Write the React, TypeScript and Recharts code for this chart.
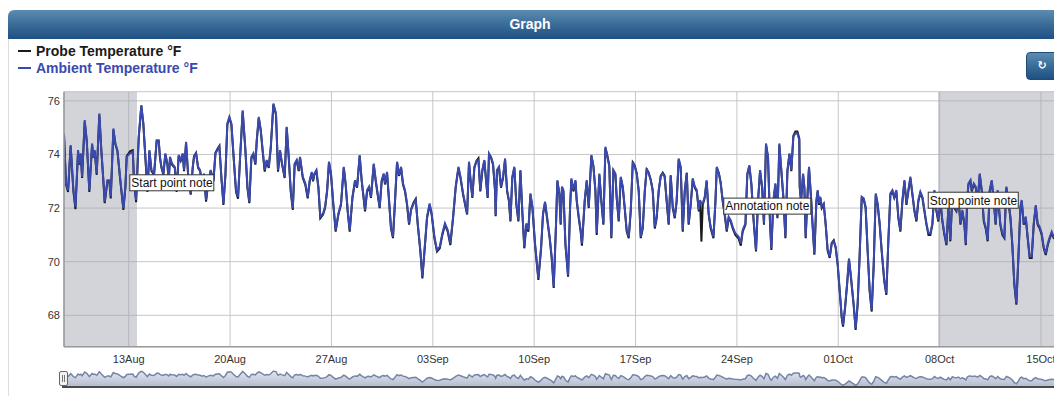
import React from "react";
import {
  LineChart,
  Line,
  XAxis,
  YAxis,
  CartesianGrid,
  ReferenceArea,
  ReferenceDot,
  AreaChart,
  Area,
} from "recharts";

// x values are days relative to 13 Aug
const tickDays = [0, 7, 14, 21, 28, 35, 42, 49, 56, 63];
const tickLabels = ["13Aug", "20Aug", "27Aug", "03Sep", "10Sep", "17Sep", "24Sep", "01Oct", "08Oct", "15Oct"];
const yTicks = [68, 70, 72, 74, 76];
const xDomain: [number, number] = [-4.47, 64.5];
const yDomain: [number, number] = [66.83, 76.34];
const bands: [number, number][] = [
  [-4.47, 0.57],
  [55.89, 64.5],
];
const notes = [
  { text: "Start point note", t: 0.04, v: 73.26 },
  { text: "Annotation note", t: 41.06, v: 72.39 },
  { text: "Stop pointe note", t: 55.18, v: 72.61 },
];

const ambientPoints: [number, number][] = [
  [-4.47,74.78],[-4.33,72.92],[-4.19,72.67],[-4.01,74.35],[-3.82,72.67],[-3.68,72.05],[-3.50,74.16],[-3.41,73.66],[-3.31,74.04],[-3.22,73.17],
  [-3.04,75.28],[-2.90,74.53],[-2.72,72.67],[-2.53,74.41],[-2.44,73.91],[-2.35,74.16],[-2.21,73.29],[-2.03,75.53],[-1.89,74.16],[-1.75,73.04],
  [-1.66,72.24],[-1.47,73.04],[-1.34,73.04],[-1.24,72.42],[-1.06,74.97],[-0.92,74.41],[-0.78,74.16],[-0.60,73.17],[-0.37,71.99],[-0.23,72.80],
  [-0.14,73.91],[0.09,74.04],[0.28,74.10],[0.37,72.92],[0.51,72.30],[0.69,74.66],[0.87,75.84],[1.01,75.16],[1.15,73.91],[1.29,72.67],
  [1.43,74.16],[1.57,73.42],[1.75,73.29],[1.93,74.53],[2.07,74.53],[2.16,73.91],[2.26,73.54],[2.39,73.29],[2.53,74.04],[2.67,73.66],
  [2.76,73.04],[2.85,73.91],[2.99,73.66],[3.18,73.54],[3.31,72.67],[3.45,73.98],[3.59,73.79],[3.73,74.04],[3.82,73.42],[3.96,74.47],
  [4.10,73.29],[4.28,72.55],[4.42,73.54],[4.51,73.91],[4.65,74.04],[4.79,73.54],[4.93,73.42],[5.06,72.92],[5.20,73.29],[5.34,72.30],
  [5.48,72.92],[5.66,73.42],[5.85,73.04],[5.99,74.04],[6.12,74.16],[6.26,74.29],[6.40,73.17],[6.54,72.17],[6.68,73.29],[6.81,75.16],
  [6.95,75.40],[7.09,75.16],[7.23,74.04],[7.41,72.67],[7.55,72.42],[7.69,73.91],[7.87,75.65],[8.06,74.16],[8.20,72.80],[8.33,72.24],
  [8.47,73.91],[8.61,74.04],[8.75,73.66],[8.84,74.53],[8.98,75.40],[9.12,74.91],[9.25,74.16],[9.39,73.42],[9.53,73.79],[9.67,73.54],
  [9.81,74.29],[9.99,75.90],[10.17,75.53],[10.31,73.42],[10.45,74.16],[10.59,73.66],[10.77,73.17],[10.91,75.03],[11.05,73.91],[11.19,72.67],
  [11.33,71.99],[11.46,73.66],[11.60,73.79],[11.74,73.42],[11.83,73.91],[12.02,73.17],[12.20,72.92],
  [12.36,72.42],[12.50,73.04],[12.64,73.35],[12.73,73.04],[12.82,73.29],[12.96,73.42],[13.10,72.80],[13.23,71.68],[13.42,71.80],[13.56,72.05],
  [13.70,72.67],[13.83,73.73],[13.97,73.29],[14.11,72.30],[14.29,71.18],[14.48,71.80],[14.66,72.17],[14.85,73.54],[14.98,72.92],[15.12,71.93],
  [15.26,71.18],[15.45,72.42],[15.63,73.04],[15.77,72.80],[15.95,73.98],[16.09,73.04],[16.32,71.93],[16.46,72.67],[16.60,72.80],[16.73,72.42],
  [16.92,73.66],[17.06,73.04],[17.19,72.55],[17.33,72.05],[17.47,73.04],[17.61,73.29],[17.70,72.92],[17.84,73.35],[17.98,72.30],[18.11,71.30],
  [18.25,70.93],[18.39,72.30],[18.53,73.73],[18.67,73.23],[18.81,73.54],[18.94,72.92],[19.08,72.67],[19.22,72.17],[19.36,71.43],[19.50,71.93],
  [19.68,72.17],[19.82,72.30],[19.96,71.43],[20.14,70.43],[20.28,69.44],[20.46,70.68],[20.60,71.68],[20.78,72.17],[20.92,71.80],[21.11,70.93],
  [21.29,70.43],[21.48,70.56],[21.66,71.06],[21.84,71.43],[22.03,71.18],[22.21,70.68],[22.40,71.68],[22.58,72.80],[22.77,73.54],[22.91,73.17],
  [23.09,72.55],[23.23,72.17],[23.37,71.80],[23.50,73.73],[23.59,73.17],[23.73,72.42],[23.87,73.54],[24.01,73.73],[24.15,73.79],[24.28,72.67],
  [24.42,73.42],[24.56,73.79],[24.70,72.92],[24.79,72.42],[24.88,74.04],[25.02,73.91],[25.16,73.66],[25.30,72.67],[25.34,71.74],[25.43,73.42],
  [25.57,73.54],[25.71,72.80],[25.85,73.17],[25.99,73.85],[26.13,72.67],[26.26,72.30],[26.36,71.55],[26.49,73.17],[26.63,73.54],[26.77,72.17],
  [26.91,71.55],[27.05,73.42],[27.19,71.80],[27.32,70.56],[27.46,71.43],[27.60,71.18],[27.74,72.55],[27.88,72.05],[28.06,70.68],[28.29,69.38],
  [28.48,70.56],[28.61,71.80],[28.75,72.24],[28.89,71.68],[29.07,70.93],[29.21,70.19],[29.35,69.07],
  [29.51,71.43],[29.60,73.04],[29.74,72.55],[29.83,71.43],[29.92,72.80],[30.02,72.67],[30.16,70.68],[30.34,69.50],[30.48,72.05],[30.57,73.11],
  [30.71,72.67],[30.85,73.04],[30.94,72.30],[31.08,71.68],[31.21,71.18],[31.30,70.68],[31.49,72.30],[31.63,73.04],[31.77,72.05],[31.95,73.98],
  [32.09,73.54],[32.23,72.67],[32.32,71.06],[32.50,73.29],[32.64,72.30],[32.78,71.43],[32.92,74.29],[33.06,73.91],[33.19,73.54],[33.33,70.93],
  [33.47,73.42],[33.61,73.29],[33.70,72.42],[33.84,71.55],[33.98,73.17],[34.12,72.80],[34.25,72.05],[34.39,71.18],[34.53,70.93],[34.67,71.93],
  [34.81,73.73],[34.95,73.54],[35.08,73.29],[35.22,72.67],[35.36,70.93],[35.50,71.30],[35.64,72.67],[35.77,73.48],[35.91,73.29],[36.05,73.04],
  [36.19,72.67],[36.33,71.30],[36.46,71.68],[36.60,72.67],[36.74,73.17],[36.88,73.29],[37.01,73.17],[37.15,72.30],[37.29,71.43],[37.43,73.23],
  [37.57,72.05],[37.71,71.68],[37.84,72.30],[37.98,73.85],[38.12,73.54],[38.26,71.18],[38.40,72.67],[38.54,73.29],[38.67,71.43],[38.81,72.17],
  [38.95,73.11],[39.09,72.80],[39.23,72.67],[39.37,71.93],[39.46,72.30],[39.55,72.17],[39.64,72.17],[39.78,72.42],[39.91,73.04],[40.05,71.80],
  [40.19,71.30],[40.38,70.93],[40.52,72.30],[40.61,73.54],[40.75,73.29],[40.88,72.92],[41.02,72.30],[41.16,71.80],[41.30,71.18],[41.43,71.68],
  [41.57,71.55],[41.71,71.30],[41.89,71.06],[42.12,70.93],[42.27,70.68],[42.40,71.18],[42.59,71.43],[42.72,73.29],[42.86,73.60],[43.00,72.92],
  [43.14,71.68],[43.32,70.43],[43.46,72.30],[43.60,73.42],[43.74,72.80],[43.87,71.43],[44.01,74.41],[44.15,73.91],[44.29,71.43],[44.38,70.50],
  [44.52,72.30],[44.66,72.92],[44.80,71.68],[44.93,74.41],[45.07,73.42],[45.21,72.42],[45.35,70.93],[45.49,73.42],[45.63,74.04],[45.76,73.42],
  [45.90,74.66],[46.04,74.78],[46.18,74.78],[46.31,74.53],
  [46.34,72.80],[46.43,72.30],[46.57,73.29],[46.66,72.80],[46.75,70.93],[46.89,72.67],[46.98,73.54],[47.12,72.42],[47.21,71.55],[47.35,70.31],
  [47.49,72.30],[47.58,72.67],[47.67,72.17],[47.76,72.42],[47.86,72.05],[48.00,72.17],[48.13,71.43],[48.27,70.43],[48.41,70.19],[48.55,70.68],
  [48.69,70.75],[48.82,70.56],[48.96,69.94],[49.10,68.94],[49.24,67.95],[49.33,67.64],[49.47,68.32],[49.61,69.19],[49.74,70.12],[49.88,69.44],
  [50.06,68.45],[50.20,67.52],[50.34,68.45],[50.48,70.31],[50.62,72.42],[50.76,72.36],[50.89,72.05],[51.03,70.43],[51.17,68.94],[51.31,68.20],
  [51.45,69.94],[51.59,72.55],[51.72,72.17],[51.86,71.43],[52.00,70.43],[52.18,69.32],[52.32,68.82],[52.46,70.81],[52.60,72.55],[52.74,72.67],
  [52.87,72.42],[53.01,72.67],[53.15,71.68],[53.29,71.18],[53.43,72.30],[53.57,73.04],[53.71,72.17],[53.84,72.67],[53.98,73.17],[54.12,72.55],
  [54.26,71.93],[54.40,71.55],[54.53,72.30],[54.67,72.61],[54.81,72.42],[54.95,71.93],[55.09,71.43],[55.23,71.06],[55.36,71.06],[55.50,71.43],
  [55.64,72.67],[55.78,71.93],[55.91,71.55],[56.05,72.30],[56.19,71.55],[56.33,71.06],[56.47,70.68],[56.61,72.05],[56.74,70.81],[56.88,72.55],
  [57.02,72.05],[57.16,71.93],[57.30,72.42],[57.44,71.43],[57.57,71.93],[57.71,71.43],[57.81,70.68],[57.90,72.30],[57.99,72.92],[58.13,73.04],
  [58.22,72.67],[58.36,72.92],[58.49,72.80],[58.63,72.30],[58.77,73.29],[58.91,72.67],[59.05,71.55],[59.18,71.30],[59.32,70.81],[59.46,72.67],
  [59.60,73.04],[59.74,72.30],[59.87,71.43],[60.01,72.67],[60.19,71.43],[60.33,71.06],[60.47,70.93],[60.61,72.80],[60.75,72.30],[60.89,71.68],
  [61.02,70.68],[61.16,69.19],[61.30,68.45],[61.44,70.19],[61.58,72.05],[61.67,72.30],[61.81,71.43],[61.95,71.68],[62.08,70.93],[62.22,70.19],
  [62.36,70.19],[62.50,71.43],[62.64,72.11],[62.77,71.43],[62.91,71.30],[63.05,71.06],[63.19,70.56],[63.33,70.31],[63.47,70.68],[63.61,70.93],
  [63.74,71.12],[63.88,70.93],[64.30,71.00],
];

const probePoints: [number, number][] = [
  [-4.47,74.70],[-4.33,72.88],[-4.19,72.60],[-4.01,74.30],[-3.82,72.62],[-3.68,71.96],[-3.50,74.10],[-3.41,73.62],[-3.31,74.00],[-3.22,73.12],
  [-3.04,75.22],[-2.90,74.50],[-2.72,72.60],[-2.53,74.36],[-2.44,73.88],[-2.35,74.12],[-2.21,73.24],[-2.03,75.48],[-1.89,74.12],[-1.75,73.00],
  [-1.66,72.18],[-1.47,73.00],[-1.34,73.00],[-1.24,72.36],[-1.06,74.92],[-0.92,74.38],[-0.78,74.12],[-0.60,73.12],[-0.37,71.93],[-0.23,72.76],
  [-0.14,73.94],[0.09,74.12],[0.28,74.16],[0.37,72.96],[0.51,72.22],[0.69,74.62],[0.87,75.80],[1.01,75.12],[1.15,73.88],[1.29,72.60],
  [1.43,74.12],[1.57,73.38],[1.75,73.24],[1.93,74.50],[2.07,74.50],[2.16,73.86],[2.26,73.50],[2.39,73.24],[2.53,74.00],[2.67,73.62],
  [2.76,73.00],[2.85,73.86],[2.99,73.62],[3.18,73.50],[3.31,72.60],[3.45,73.94],[3.59,73.76],[3.73,74.00],[3.82,73.38],[3.96,74.42],
  [4.10,73.24],[4.28,72.50],[4.42,73.50],[4.51,73.94],[4.65,74.06],[4.79,73.50],[4.93,73.38],[5.06,72.88],[5.20,73.24],[5.34,72.24],
  [5.48,72.88],[5.66,73.38],[5.85,73.00],[5.99,74.06],[6.12,74.20],[6.26,74.32],[6.40,73.12],[6.54,72.12],[6.68,73.24],[6.81,75.12],
  [6.95,75.36],[7.09,75.12],[7.23,74.00],[7.41,72.60],[7.55,72.35],[7.69,73.86],[7.87,75.60],[8.06,74.12],[8.20,72.74],[8.33,72.18],
  [8.47,73.86],[8.61,74.00],[8.75,73.62],[8.84,74.50],[8.98,75.36],[9.12,74.88],[9.25,74.12],[9.39,73.36],[9.53,73.76],[9.67,73.50],
  [9.81,74.24],[9.99,75.86],[10.17,75.48],[10.31,73.36],[10.45,74.12],[10.59,73.62],[10.77,73.12],[10.91,75.00],[11.05,73.88],[11.19,72.60],
  [11.33,71.93],[11.46,73.62],[11.60,73.76],[11.74,73.38],[11.83,73.88],[12.02,73.12],[12.20,72.86],
  [12.36,72.36],[12.50,73.00],[12.64,73.30],[12.73,73.00],[12.82,73.24],[12.96,73.38],[13.10,72.74],[13.23,71.62],[13.42,71.76],[13.56,72.00],
  [13.70,72.62],[13.83,73.70],[13.97,73.24],[14.11,72.24],[14.29,71.12],[14.48,71.76],[14.66,72.12],[14.85,73.50],[14.98,72.88],[15.12,71.88],
  [15.26,71.12],[15.45,72.38],[15.63,73.00],[15.77,72.76],[15.95,73.94],[16.09,73.00],[16.32,71.88],[16.46,72.62],[16.60,72.76],[16.73,72.38],
  [16.92,73.62],[17.06,73.00],[17.19,72.50],[17.33,72.00],[17.47,73.00],[17.61,73.24],[17.70,72.88],[17.84,73.30],[17.98,72.24],[18.11,71.24],
  [18.25,70.88],[18.39,72.24],[18.53,73.70],[18.67,73.20],[18.81,73.50],[18.94,72.88],[19.08,72.62],[19.22,72.12],[19.36,71.38],[19.50,71.96],
  [19.68,72.22],[19.82,72.34],[19.96,71.38],[20.14,70.38],[20.28,69.38],[20.46,70.62],[20.60,71.62],[20.78,72.12],[20.92,71.76],[21.11,70.88],
  [21.29,70.38],[21.48,70.50],[21.66,71.00],[21.84,71.38],[22.03,71.12],[22.21,70.62],[22.40,71.62],[22.58,72.76],[22.77,73.50],[22.91,73.12],
  [23.09,72.50],[23.23,72.12],[23.37,71.76],[23.50,73.70],[23.59,73.12],[23.73,72.38],[23.87,73.50],[24.01,73.76],[24.15,73.86],[24.28,72.62],
  [24.42,73.38],[24.56,73.76],[24.70,72.88],[24.79,72.38],[24.88,74.00],[25.02,73.88],[25.16,73.62],[25.30,72.62],[25.34,71.70],[25.43,73.38],
  [25.57,73.50],[25.71,72.76],[25.85,73.12],[25.99,73.80],[26.13,72.62],[26.26,72.24],[26.36,71.50],[26.49,73.12],[26.63,73.50],[26.77,72.12],
  [26.91,71.50],[27.05,73.38],[27.19,71.76],[27.32,70.50],[27.46,71.38],[27.60,71.12],[27.74,72.50],[27.88,72.00],[28.06,70.62],[28.29,69.32],
  [28.48,70.50],[28.61,71.76],[28.75,72.20],[28.89,71.62],[29.07,70.88],[29.21,70.12],[29.35,69.02],
  [29.51,71.38],[29.60,73.00],[29.74,72.50],[29.83,71.38],[29.92,72.76],[30.02,72.62],[30.16,70.62],[30.34,69.44],[30.48,72.00],[30.57,73.06],
  [30.71,72.62],[30.85,73.00],[30.94,72.24],[31.08,71.62],[31.21,71.12],[31.30,70.60],[31.49,72.24],[31.63,73.00],[31.77,72.00],[31.95,73.94],
  [32.09,73.58],[32.23,72.62],[32.32,71.00],[32.50,73.24],[32.64,72.24],[32.78,71.38],[32.92,74.24],[33.06,73.94],[33.19,73.58],[33.33,70.88],
  [33.47,73.38],[33.61,73.24],[33.70,72.36],[33.84,71.50],[33.98,73.12],[34.12,72.76],[34.25,72.00],[34.39,71.12],[34.53,70.88],[34.67,71.88],
  [34.81,73.70],[34.95,73.58],[35.08,73.30],[35.22,72.62],[35.36,70.88],[35.50,71.24],[35.64,72.62],[35.77,73.44],[35.91,73.32],[36.05,73.06],
  [36.19,72.62],[36.33,71.24],[36.46,71.62],[36.60,72.62],[36.74,73.20],[36.88,73.32],[37.01,73.20],[37.15,72.24],[37.29,71.38],[37.43,73.20],
  [37.57,72.00],[37.71,71.62],[37.84,72.24],[37.98,73.80],[38.12,73.50],[38.26,71.12],[38.40,72.62],[38.54,73.32],[38.67,71.38],[38.81,72.12],
  [38.95,73.06],[39.09,72.76],[39.23,72.62],[39.37,71.88],[39.46,72.24],[39.55,70.75],[39.64,72.12],[39.78,72.38],[39.91,73.00],[40.05,71.76],
  [40.19,71.24],[40.38,70.88],[40.52,72.24],[40.61,73.50],[40.75,73.32],[40.88,72.96],[41.02,72.24],[41.16,71.74],[41.30,71.12],[41.43,71.62],
  [41.57,71.50],[41.71,71.24],[41.89,71.00],[42.12,70.86],[42.27,70.60],[42.40,71.12],[42.59,71.38],[42.72,73.24],[42.86,73.56],[43.00,72.88],
  [43.14,71.62],[43.32,70.38],[43.46,72.24],[43.60,73.38],[43.74,72.76],[43.87,71.38],[44.01,74.36],[44.15,73.88],[44.29,71.38],[44.38,70.44],
  [44.52,72.24],[44.66,72.88],[44.80,71.62],[44.93,74.36],[45.07,73.38],[45.21,72.38],[45.35,70.88],[45.49,73.38],[45.63,74.00],[45.76,73.38],
  [45.90,74.70],[46.04,74.86],[46.18,74.86],[46.31,74.60],
  [46.34,72.76],[46.43,72.24],[46.57,73.24],[46.66,72.76],[46.75,70.88],[46.89,72.62],[46.98,73.50],[47.12,72.38],[47.21,71.50],[47.35,70.26],
  [47.49,72.24],[47.58,72.62],[47.67,72.12],[47.76,72.38],[47.86,72.00],[48.00,72.12],[48.13,71.38],[48.27,70.40],[48.41,70.14],[48.55,70.70],
  [48.69,70.80],[48.82,70.52],[48.96,69.88],[49.10,68.88],[49.24,67.90],[49.33,67.58],[49.47,68.26],[49.61,69.14],[49.74,70.08],[49.88,69.38],
  [50.06,68.40],[50.20,67.46],[50.34,68.40],[50.48,70.26],[50.62,72.36],[50.76,72.32],[50.89,72.00],[51.03,70.38],[51.17,68.88],[51.31,68.14],
  [51.45,69.88],[51.59,72.50],[51.72,72.12],[51.86,71.38],[52.00,70.38],[52.18,69.26],[52.32,68.76],[52.46,70.76],[52.60,72.50],[52.74,72.62],
  [52.87,72.38],[53.01,72.62],[53.15,71.62],[53.29,71.12],[53.43,72.24],[53.57,73.00],[53.71,72.12],[53.84,72.62],[53.98,73.12],[54.12,72.50],
  [54.26,71.88],[54.40,71.50],[54.53,72.24],[54.67,72.56],[54.81,72.38],[54.95,71.88],[55.09,71.38],[55.23,71.00],[55.36,71.00],[55.50,71.38],
  [55.64,72.62],[55.78,71.88],[55.91,71.50],[56.05,72.24],[56.19,71.50],[56.33,71.00],[56.47,70.62],[56.61,72.00],[56.74,70.76],[56.88,72.50],
  [57.02,72.00],[57.16,71.88],[57.30,72.38],[57.44,71.38],[57.57,71.88],[57.71,71.38],[57.81,70.62],[57.90,72.24],[57.99,72.88],[58.13,73.00],
  [58.22,72.62],[58.36,72.88],[58.49,72.76],[58.63,72.24],[58.77,73.24],[58.91,72.62],[59.05,71.50],[59.18,71.24],[59.32,70.76],[59.46,72.62],
  [59.60,73.00],[59.74,72.24],[59.87,71.38],[60.01,72.62],[60.19,71.38],[60.33,71.00],[60.47,70.88],[60.61,72.76],[60.75,72.24],[60.89,71.62],
  [61.02,70.62],[61.16,69.14],[61.30,68.40],[61.44,70.14],[61.58,72.00],[61.67,72.24],[61.81,71.38],[61.95,71.62],[62.08,70.88],[62.22,70.14],
  [62.36,70.14],[62.50,71.38],[62.64,72.06],[62.77,71.38],[62.91,71.24],[63.05,71.00],[63.19,70.50],[63.33,70.25],[63.47,70.62],[63.61,70.88],
  [63.74,71.06],[63.88,70.88],[64.30,70.95],
];

const ambientData = ambientPoints.map(([t, v]) => ({ t, v }));
const probeData = probePoints.map(([t, v]) => ({ t, v }));

const FONT = '"Liberation Sans", Arial, Helvetica, sans-serif';
const BLUE = "#3a49ad";

let measureCtx: CanvasRenderingContext2D | null = null;
function textWidth(s: string): number {
  if (!measureCtx) {
    const c = document.createElement("canvas");
    measureCtx = c.getContext("2d");
  }
  if (!measureCtx) return s.length * 5.5;
  measureCtx.font = `12px ${FONT}`;
  return measureCtx.measureText(s).width;
}

function NoteBox(props: { cx?: number; cy?: number; text: string }) {
  const { cx = 0, cy = 0, text } = props;
  const w = Math.round(textWidth(text)) + 3;
  return (
    <g>
      <rect x={cx + 0.5} y={cy + 0.5} width={w} height={16} fill="#ffffff" stroke="#333333" strokeWidth={1} />
      <text x={cx + 2} y={cy + 12.8} fontSize={12} fontFamily={FONT} fill="#111111">
        {text}
      </text>
    </g>
  );
}

const tickLabelFor = (d: number) => {
  const i = tickDays.indexOf(d);
  return i >= 0 ? tickLabels[i] : "";
};

export default function App() {
  const headerGrad = "linear-gradient(to bottom, #5a8cb3 0%, #3a6c98 50%, #1f5083 100%)";
  return (
    <div
      style={{
        position: "fixed",
        left: 0,
        top: 0,
        width: 1054,
        height: 396,
        overflow: "hidden",
        background: "#ffffff",
        fontFamily: FONT,
      }}
    >
      {/* panel left border */}
      <div style={{ position: "absolute", left: 8, top: 38, width: 1, height: 360, background: "#dedede" }} />
      {/* header */}
      <div
        style={{
          position: "absolute",
          left: 8,
          top: 10,
          width: 1100,
          height: 29,
          borderTopLeftRadius: 6,
          background: headerGrad,
        }}
      />
      <div
        style={{
          position: "absolute",
          left: 8,
          top: 10,
          width: 1044,
          height: 29,
          lineHeight: "29px",
          textAlign: "center",
          color: "#ffffff",
          fontWeight: "bold",
          fontSize: 14,
        }}
      >
        Graph
      </div>
      {/* legend */}
      <div style={{ position: "absolute", left: 18, top: 42.5, height: 17, lineHeight: "17px", fontSize: 14, fontWeight: "bold", color: "#1a1a1a", whiteSpace: "nowrap" }}>
        <span style={{ display: "inline-block", width: 13, height: 2, background: "#1a1a1a", verticalAlign: "middle", marginRight: 5, position: "relative", top: -1 }} />
        Probe Temperature °F
      </div>
      <div style={{ position: "absolute", left: 18, top: 59.5, height: 17, lineHeight: "17px", fontSize: 14, fontWeight: "bold", color: BLUE, whiteSpace: "nowrap" }}>
        <span style={{ display: "inline-block", width: 13, height: 2, background: BLUE, verticalAlign: "middle", marginRight: 5, position: "relative", top: -1 }} />
        Ambient Temperature °F
      </div>
      {/* reset button */}
      <div
        style={{
          position: "absolute",
          left: 1026,
          top: 52,
          width: 40,
          height: 28,
          borderRadius: 4,
          background: headerGrad,
          border: "1px solid #1d4a78",
          boxSizing: "border-box",
        }}
      />
      <div style={{ position: "absolute", left: 1036, top: 58, width: 12, height: 16, lineHeight: "16px", textAlign: "center", color: "#ffffff", fontSize: 11, fontWeight: "bold", fontFamily: '"DejaVu Sans", sans-serif' }}>
        ↻
      </div>

      {/* main chart */}
      <div style={{ position: "absolute", left: 0, top: 0 }}>
        <LineChart width={1080} height={370} margin={{ top: 91.7, right: 17.3, bottom: 0, left: 0 }}>
          <CartesianGrid stroke="#c6c6c6" strokeWidth={1} />
          {bands.map(([a, b], i) => (
            <ReferenceArea key={"band" + i} x1={a} x2={b} fill="#a3a6b0" fillOpacity={0.48} stroke="none" ifOverflow="hidden" />
          ))}
          <XAxis
            dataKey="t"
            type="number"
            domain={xDomain}
            allowDataOverflow
            ticks={tickDays}
            interval={0}
            tickFormatter={tickLabelFor}
            height={23.3}
            tickLine={false}
            axisLine={{ stroke: "#9a9a9a", strokeWidth: 1.5 }}
            tick={{ fontSize: 11, fill: "#333333", fontFamily: FONT }}
          />
          <YAxis
            type="number"
            domain={yDomain}
            allowDataOverflow
            ticks={yTicks}
            interval={0}
            width={64}
            tickLine={false}
            tickSize={2}
            tickMargin={2}
            axisLine={{ stroke: "#9a9a9a", strokeWidth: 1.5 }}
            tick={{ fontSize: 11, fill: "#333333", fontFamily: FONT }}
          />
          <Line
            data={probeData}
            dataKey="v"
            type="linear"
            stroke="#1a1a1a"
            strokeWidth={2}
            dot={false}
            activeDot={false}
            isAnimationActive={false}
          />
          <Line
            data={ambientData}
            dataKey="v"
            type="linear"
            stroke={BLUE}
            strokeWidth={2}
            dot={false}
            activeDot={false}
            isAnimationActive={false}
          />
          {notes.map((n, i) => (
            <ReferenceDot
              key={"note" + i}
              x={n.t}
              y={n.v}
              r={0}
              ifOverflow="visible"
              shape={(p: any) => <NoteBox cx={p.cx} cy={p.cy} text={n.text} />}
            />
          ))}
        </LineChart>
      </div>

      {/* navigator */}
      <div style={{ position: "absolute", left: 0, top: 360 }}>
        <AreaChart width={1080} height={30} margin={{ top: 10.3, right: 17.3, bottom: 3.3, left: 64 }}>
          <defs>
            <linearGradient id="navFill" x1="0" y1="0" x2="0" y2="1">
              <stop offset="0" stopColor="#e3e6ee" />
              <stop offset="1" stopColor="#b3bccf" />
            </linearGradient>
          </defs>
          <XAxis hide dataKey="t" type="number" domain={xDomain} allowDataOverflow />
          <YAxis hide type="number" domain={[66.8, 76.3]} allowDataOverflow />
          <Area
            data={ambientData}
            dataKey="v"
            type="linear"
            stroke="#7485a8"
            strokeWidth={1.5}
            fill="url(#navFill)"
            fillOpacity={1}
            dot={false}
            activeDot={false}
            isAnimationActive={false}
          />
        </AreaChart>
      </div>
      <div style={{ position: "absolute", left: 62, top: 386, width: 1000, height: 2, background: "#4a4a4a" }} />
      {/* navigator handle */}
      <div
        style={{
          position: "absolute",
          left: 59,
          top: 371,
          width: 9,
          height: 15,
          boxSizing: "border-box",
          border: "1px solid #666666",
          borderRadius: 2,
          background: "#f2f2f2",
        }}
      >
        <div style={{ position: "absolute", left: 2, top: 3, width: 1, height: 7, background: "#777777" }} />
        <div style={{ position: "absolute", left: 4, top: 3, width: 1, height: 7, background: "#777777" }} />
      </div>
    </div>
  );
}
